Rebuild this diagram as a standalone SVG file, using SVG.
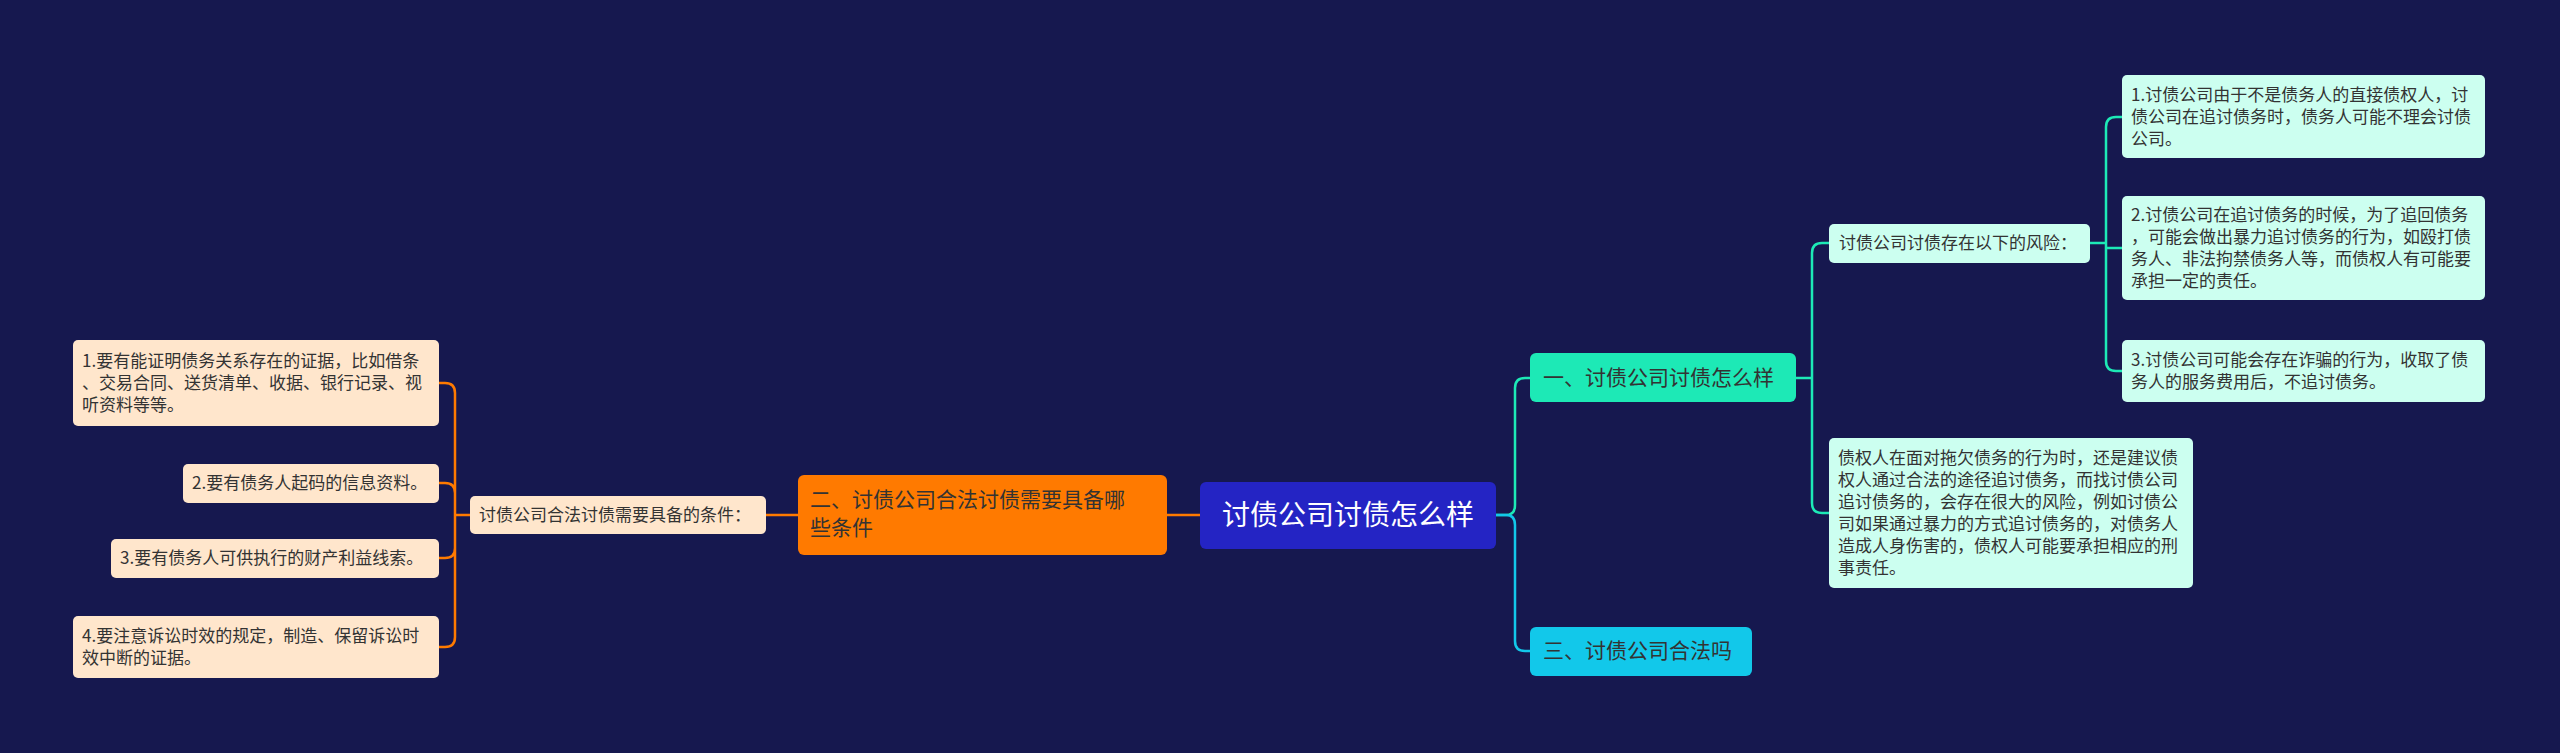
<svg xmlns="http://www.w3.org/2000/svg" width="2560" height="753" viewBox="0 0 2560 753">
<style>
text{font-family:"Noto Sans CJK SC","Liberation Sans",sans-serif;}
.s{font-size:17px;fill:#333;}
.m{font-size:21px;fill:#333;}
.lt{fill:#ccfff0;}
.lo{fill:#ffe6cc;}
.c{fill:none;stroke-width:2.5;}
</style>
<rect width="2560" height="753" fill="#16184f"/>
<g id="connectors">
<path class="c" stroke="#1de9b6" d="M1496,515 H1506 Q1515,515 1515,505 V388 Q1515,378 1525,378 H1530"/>
<path class="c" stroke="#12c8ea" d="M1496,515 H1506 Q1515,515 1515,525 V641 Q1515,651 1525,651 H1530"/>
<path class="c" stroke="#1de9b6" d="M1796,378 H1812 M1812,378 V253 Q1812,243 1822,243 H1829 M1812,378 V503 Q1812,513 1822,513 H1829"/>
<path class="c" stroke="#1de9b6" d="M2090,243 H2106 M2106,243 V127 Q2106,117 2116,117 H2122 M2106,243 V248 H2122 M2106,243 V361 Q2106,371 2116,371 H2122"/>
<path class="c" stroke="#ff7a00" d="M1200,515 H1167 M798,515 H766"/>
<path class="c" stroke="#ff7a00" d="M470,515 H455 M455,515 V393 Q455,383 445,383 H439 M455,515 V493 Q455,483 445,483 H439 M455,515 V548 Q455,558 445,558 H439 M455,515 V637 Q455,647 445,647 H439"/>
</g>
<g id="root"><rect x="1200" y="482" width="296" height="67" rx="6" fill="#2424c4"/><text x="1348" y="525" text-anchor="middle" font-size="28" fill="#fff">讨债公司讨债怎么样</text></g>
<g id="n1"><rect x="1530" y="353" width="266" height="49" rx="6" fill="#1de9b6"/><text class="m" x="1543" y="385">一、讨债公司讨债怎么样</text></g>
<g id="n3"><rect x="1530" y="627" width="222" height="49" rx="6" fill="#12c8ea"/><text class="m" x="1543" y="658">三、讨债公司合法吗</text></g>
<g id="n2"><rect x="798" y="475" width="369" height="80" rx="6" fill="#ff7a00"/><text class="m" x="810" y="507">二、讨债公司合法讨债需要具备哪</text><text class="m" x="810" y="535">些条件</text></g>
<g id="risk"><rect class="lt" x="1829" y="224" width="261" height="39" rx="5"/><text class="s" x="1839" y="249">讨债公司讨债存在以下的风险：</text></g>
<g id="r1"><rect class="lt" x="2122" y="75" width="363" height="83" rx="5"/><text class="s" x="2131" y="101">1.讨债公司由于不是债务人的直接债权人，讨</text><text class="s" x="2131" y="123">债公司在追讨债务时，债务人可能不理会讨债</text><text class="s" x="2131" y="145">公司。</text></g>
<g id="r2"><rect class="lt" x="2122" y="196" width="363" height="104" rx="5"/><text class="s" x="2131" y="221">2.讨债公司在追讨债务的时候，为了追回债务</text><text class="s" x="2131" y="243">，可能会做出暴力追讨债务的行为，如殴打债</text><text class="s" x="2131" y="265">务人、非法拘禁债务人等，而债权人有可能要</text><text class="s" x="2131" y="287">承担一定的责任。</text></g>
<g id="r3"><rect class="lt" x="2122" y="340" width="363" height="62" rx="5"/><text class="s" x="2131" y="366">3.讨债公司可能会存在诈骗的行为，收取了债</text><text class="s" x="2131" y="388">务人的服务费用后，不追讨债务。</text></g>
<g id="para"><rect class="lt" x="1829" y="438" width="364" height="150" rx="5"/><text class="s" x="1838" y="464">债权人在面对拖欠债务的行为时，还是建议债</text><text class="s" x="1838" y="486">权人通过合法的途径追讨债务，而找讨债公司</text><text class="s" x="1838" y="508">追讨债务的，会存在很大的风险，例如讨债公</text><text class="s" x="1838" y="530">司如果通过暴力的方式追讨债务的，对债务人</text><text class="s" x="1838" y="552">造成人身伤害的，债权人可能要承担相应的刑</text><text class="s" x="1838" y="574">事责任。</text></g>
<g id="cond"><rect class="lo" x="470" y="496" width="296" height="38" rx="5"/><text class="s" x="479" y="521">讨债公司合法讨债需要具备的条件：</text></g>
<g id="l1"><rect class="lo" x="73" y="340" width="366" height="86" rx="5"/><text class="s" x="82" y="367">1.要有能证明债务关系存在的证据，比如借条</text><text class="s" x="82" y="389">、交易合同、送货清单、收据、银行记录、视</text><text class="s" x="82" y="411">听资料等等。</text></g>
<g id="l2"><rect class="lo" x="183" y="464" width="256" height="39" rx="5"/><text class="s" x="192" y="489">2.要有债务人起码的信息资料。</text></g>
<g id="l3"><rect class="lo" x="111" y="539" width="328" height="39" rx="5"/><text class="s" x="120" y="564">3.要有债务人可供执行的财产利益线索。</text></g>
<g id="l4"><rect class="lo" x="73" y="616" width="366" height="62" rx="5"/><text class="s" x="82" y="642">4.要注意诉讼时效的规定，制造、保留诉讼时</text><text class="s" x="82" y="664">效中断的证据。</text></g>
</svg>
